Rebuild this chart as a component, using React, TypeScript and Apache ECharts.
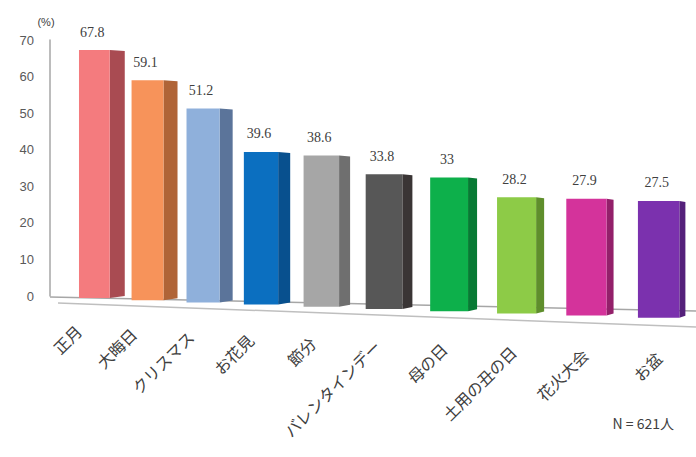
import React, { useEffect, useRef } from "react";
import * as echarts from "echarts";

const categories = ["正月", "大晦日", "クリスマス", "お花見", "節分", "バレンタインデー", "母の日", "土用の丑の日", "花火大会", "お盆"];
const values = [67.8, 59.1, 51.2, 39.6, 38.6, 33.8, 33, 28.2, 27.9, 27.5];
const frontColors = ["#F47B7E", "#F7935A", "#8FB0DB", "#0B6FC0", "#A6A6A6", "#575757", "#0DB04B", "#8DCB47", "#D4339B", "#7B31AE"];
const sideColors = ["#A94B52", "#B06437", "#5B749A", "#08508E", "#6F6F6F", "#3A3535", "#087A34", "#5F8E2C", "#93206A", "#54207A"];
const yMin = 0;
const yMax = 70;
const yInterval = 10;
const yName = "(%)";
const note = "N = 621人";

export default function App() {
  const ref = useRef<HTMLDivElement>(null);
  useEffect(() => {
    if (!ref.current) return;
    const chart = echarts.init(ref.current, null, { renderer: "svg" });
    const n = categories.length;
    const renderItem = (params: any, api: any) => {
      const i = api.value(0);
      const v = api.value(1);
      const base = api.coord([i, 0]);
      const topLin = api.coord([i, v]);
      const band = api.size([1, 0])[0];
      const q = 0.019 * band;
      const cx = base[0] - q * i * (n - 1 - i);
      const s = 1 + 0.018 * i;
      const yb = base[1] + 2 + 2.2 * i;
      const h = (base[1] - topLin[1]) * s;
      const yt = yb - h;
      const fw = band * (0.49 + 0.019 * i);
      const sw = band * (0.24 - 0.016 * i);
      const xl = cx - fw / 2;
      const xr = cx + fw / 2;
      const front = frontColors[i];
      const side = sideColors[i];
      return {
        type: "group",
        children: [
          {
            type: "polygon",
            shape: { points: [[xr, yt], [xr + sw, yt + 1], [xr + sw, yb - 2], [xr, yb]] },
            style: { fill: side },
          },
          {
            type: "rect",
            shape: { x: xl, y: yt, width: fw, height: h },
            style: { fill: front },
          },
          {
            type: "text",
            x: cx - 2,
            y: yt - 18,
            style: {
              text: String(values[i]),
              align: "center",
              verticalAlign: "middle",
              fill: "#404040",
              font: "14px 'Liberation Serif', serif",
            },
          },
          {
            type: "text",
            x: cx - Math.max(0, 16 - 1.8 * i),
            y: yb + 30 + 0.8 * i,
            rotation: Math.PI / 4,
            style: {
              text: categories[i],
              align: "right",
              verticalAlign: "middle",
              fill: "#404040",
              font: "16px 'Noto Sans CJK JP', sans-serif",
            },
          },
        ],
      };
    };
    chart.setOption({
      animation: false,
      grid: { left: 63, right: 6, top: 40, bottom: 161, containLabel: false },
      xAxis: {
        type: "category",
        data: categories,
        axisLine: { show: false },
        axisTick: { show: false },
        axisLabel: { show: false },
        splitLine: { show: false },
      },
      yAxis: {
        type: "value",
        min: yMin,
        max: yMax,
        interval: yInterval,
        offset: 13,
        name: yName,
        nameLocation: "end",
        nameGap: 13,
        nameTextStyle: { color: "#404040", fontSize: 11, padding: [0, 8, 0, 0], fontFamily: "'Liberation Sans', sans-serif" },
        axisLine: { show: true, lineStyle: { color: "#A6A6A6", width: 1.5 } },
        axisTick: { show: false },
        splitLine: { show: false },
        axisLabel: { color: "#595959", fontSize: 13, margin: 16, fontFamily: "'Liberation Sans', sans-serif" },
      },
      graphic: [
        {
          type: "line",
          z: 0,
          shape: { x1: 50, y1: 297, x2: 696, y2: 311 },
          style: { stroke: "#A6A6A6", lineWidth: 1.5 },
        },
        {
          type: "line",
          z: 0,
          shape: { x1: 58, y1: 303, x2: 696, y2: 327 },
          style: { stroke: "#BFBFBF", lineWidth: 1.5 },
        },
        {
          type: "text",
          right: 22,
          top: 416,
          style: { text: note, fill: "#404040", font: "14px 'Noto Sans CJK JP', sans-serif" },
        },
      ],
      series: [
        {
          type: "custom",
          clip: false,
          z: 3,
          renderItem,
          encode: { x: 0, y: 1 },
          data: values.map((v, i) => [i, v]),
        },
      ],
    });
    return () => chart.dispose();
  }, []);
  return <div ref={ref} style={{ position: "absolute", left: 0, top: 0, width: 696, height: 457 }} />;
}
